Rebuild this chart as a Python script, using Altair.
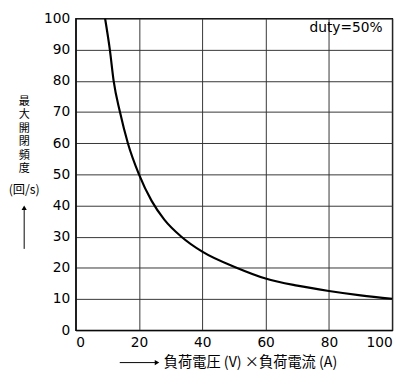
import altair as alt
import pandas as pd

# Curve
load_va = [9.3, 10.8, 12.0, 14.0, 16.5, 20.0, 24.0, 28.0, 33.4, 40.0, 51.0, 60.0, 70.0, 80.0, 90.0, 100.0]
max_freq = [100, 90, 80, 70, 60, 50, 41.5, 35.5, 30, 25.2, 20.0, 16.6, 14.3, 12.6, 11.2, 10.1]

x_ticks = [0, 20, 40, 60, 80, 100]
y_ticks = [0, 10, 20, 30, 40, 50, 60, 70, 80, 90, 100]

y_title = "最\n大\n開\n閉\n頻\n度"
y_unit = "(回/s)"
x_title = "負荷電圧 (V) ×負荷電流 (A)"
note = "duty=50%"

W, H = 323, 318
CJK = "Noto Sans CJK JP"
LAT = "DejaVu Sans"

df = pd.DataFrame({"x": load_va, "y": max_freq})

xs = alt.Scale(domain=[0, 100], nice=False)
ys = alt.Scale(domain=[0, 100], nice=False)

curve = alt.Chart(df).mark_line(color="black", strokeWidth=2.2, interpolate="monotone", clip=True).encode(
    x=alt.X("x:Q", scale=xs,
            axis=alt.Axis(values=x_ticks, grid=True, gridColor="#333", gridWidth=1, gridOpacity=1,
                          tickSize=0, labelPadding=6, domainColor="black", title=None,
                          labelFont=LAT, labelFontSize=14, labelColor="black")),
    y=alt.Y("y:Q", scale=ys,
            axis=alt.Axis(values=y_ticks, grid=True, gridColor="#333", gridWidth=1, gridOpacity=1,
                          tickSize=0, labelPadding=6, domainColor="black", title=None,
                          labelFont=LAT, labelFontSize=14, labelColor="black")),
)

one = pd.DataFrame({"t": [y_title], "u": [y_unit], "x": [x_title], "n": [note]})

ytitle = alt.Chart(one).mark_text(lineBreak="\n", lineHeight=13.8, font=CJK, fontSize=11.3,
                                  baseline="middle", align="center", color="black").encode(
    x=alt.value(-52.5), y=alt.value(85), text="t:N")
yunit = alt.Chart(one).mark_text(font=CJK, fontSize=12.5, baseline="middle", align="center",
                                 color="black").encode(
    x=alt.value(-52.5), y=alt.value(175), text="u:N")

yarrow = alt.Chart(one).mark_rule(color="black", strokeWidth=1).encode(
    x=alt.value(-52.5), y=alt.value(235), y2=alt.value(195))
yhead = alt.Chart(one).mark_point(shape="triangle-up", filled=True, color="black",
                                  size=28, opacity=1).encode(
    x=alt.value(-52.5), y=alt.value(193))

xtitle = alt.Chart(one).mark_text(font=CJK, fontSize=14.5, baseline="middle", align="left",
                                  color="black").encode(
    x=alt.value(90), y=alt.value(351), text="x:N")
xarrow = alt.Chart(one).mark_rule(color="black", strokeWidth=1).encode(
    x=alt.value(45), x2=alt.value(82), y=alt.value(351))
xhead = alt.Chart(one).mark_point(shape="triangle-right", filled=True, color="black",
                                  size=28, opacity=1).encode(
    x=alt.value(83), y=alt.value(351))

notetext = alt.Chart(one).mark_text(font=LAT, fontSize=14, align="right", baseline="middle",
                                    color="black").encode(
    x=alt.value(313), y=alt.value(10), text="n:N")

chart = alt.layer(curve, notetext, ytitle, yunit, yarrow, yhead, xtitle, xarrow, xhead).properties(
    width=W, height=H,
    autosize=alt.AutoSizeParams(type="none"),
    padding={"left": 69, "top": 7, "right": 14, "bottom": 45},
).configure_view(stroke="black", strokeWidth=1.3)

chart.save("out.html", embed_options={"renderer": "svg", "actions": False})
